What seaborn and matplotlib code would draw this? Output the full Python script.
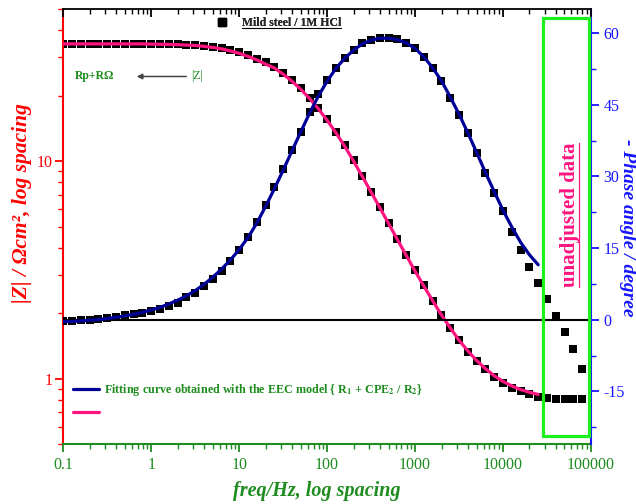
import numpy as np
import pandas as pd
import matplotlib
matplotlib.use('Agg')
import matplotlib.pyplot as plt
import seaborn as sns
from matplotlib.ticker import LogLocator, FixedLocator, FixedFormatter, NullFormatter, MultipleLocator
from matplotlib.lines import Line2D
from matplotlib.patches import Rectangle

# ---------------- data ----------------
freq = [0.1, 0.1259, 0.1585, 0.1995, 0.2512, 0.3162, 0.3981, 0.5012, 0.631, 0.7943,
        1.0, 1.259, 1.585, 1.995, 2.512, 3.162, 3.981, 5.012, 6.31, 7.943,
        10.0, 12.59, 15.85, 19.95, 25.12, 31.62, 39.81, 50.12, 63.1, 79.43,
        100.0, 125.9, 158.5, 199.5, 251.2, 316.2, 398.1, 501.2, 631.0, 794.3,
        1000.0, 1259.0, 1585.0, 1995.0, 2512.0, 3162.0, 3981.0, 5012.0, 6310.0, 7943.0,
        10000.0, 12590.0, 15850.0, 19950.0, 25120.0, 31620.0, 39810.0, 50120.0, 63100.0, 79430.0]

z_data = [34.6, 34.6, 34.6, 34.6, 34.6, 34.6, 34.6, 34.6, 34.6, 34.6,
          34.6, 34.5, 34.5, 34.4, 34.3, 34.1, 33.9, 33.5, 33.0, 32.4,
          31.7, 30.7, 29.6, 28.4, 27.0, 25.5, 23.7, 21.7, 19.6, 17.6,
          15.6, 13.6, 11.8, 10.1, 8.53, 7.2, 6.14, 5.18, 4.37, 3.69,
          3.15, 2.68, 2.28, 1.95, 1.70, 1.50, 1.33, 1.21, 1.11, 1.02,
          0.958, 0.909, 0.881, 0.853, 0.826, 0.817, 0.809, 0.809, 0.809, 0.809]

phase_data = [-0.35, -0.2, -0.15, 0.0, 0.15, 0.35, 0.6, 0.9, 1.1, 1.4,
              1.9, 2.3, 2.9, 3.6, 4.8, 5.7, 7.0, 8.6, 10.3, 12.3,
              14.6, 17.3, 20.5, 24.0, 27.8, 31.6, 35.5, 39.3, 43.5, 47.2,
              50.2, 52.7, 54.8, 56.5, 57.9, 58.6, 59.0, 59.0, 58.8, 58.0,
              56.9, 55.0, 52.7, 50.0, 46.4, 42.9, 39.0, 34.9, 30.6, 26.5,
              22.7, 18.4, 14.5, 11.1, 7.7, 4.4, 0.8, -2.5, -6.1, -10.3]

fit_freq = freq[:55]

z_fit = [34.6, 34.6, 34.6, 34.6, 34.6, 34.6, 34.6, 34.6, 34.6, 34.6,
         34.5, 34.45, 34.4, 34.3, 34.15, 34.0, 33.7, 33.3, 32.8, 32.1,
         31.3, 30.3, 29.2, 27.9, 26.8, 25.1, 23.3, 21.4, 19.4, 17.4,
         15.4, 13.5, 11.7, 10.0, 8.5, 7.2, 6.1, 5.15, 4.35, 3.68,
         3.12, 2.66, 2.28, 1.96, 1.71, 1.50, 1.34, 1.21, 1.11, 1.03,
         0.97, 0.925, 0.89, 0.865, 0.845]

phase_fit = [-0.4, -0.35, -0.25, -0.1, 0.05, 0.25, 0.5, 0.8, 1.15, 1.55,
             2.05, 2.6, 3.3, 4.1, 5.0, 6.1, 7.4, 8.9, 10.6, 12.5,
             14.7, 17.2, 20.2, 23.7, 27.4, 31.3, 35.3, 39.3, 43.2, 46.8,
             49.9, 52.6, 54.7, 56.4, 57.7, 58.5, 58.9, 58.9, 58.6, 57.9,
             56.8, 55.0, 52.7, 50.0, 46.6, 43.0, 39.1, 35.0, 30.8, 26.8,
             22.9, 19.4, 16.2, 13.6, 11.5]

x_ticks = [0.1, 1, 10, 100, 1000, 10000, 100000]
x_ticklabels = ['0.1', '1', '10', '100', '1000', '10000', '100000']
z_ticks = [1, 10]
z_ticklabels = ['1', '10']
phase_ticks = [-15, 0, 15, 30, 45, 60]
phase_ticklabels = ['-15', '0', '15', '30', '45', '60']

# ---------------- style ----------------
sns.set_theme(style='white')
plt.rcParams['font.family'] = ['Liberation Serif', 'DejaVu Serif']
plt.rcParams['mathtext.fontset'] = 'stix'

RED = '#FF0000'
GREEN = '#1E8C1E'
BLUE = '#1515FF'
NAVY = '#000099'
PINK = '#FF1480'
LIME = '#1EF01E'

fig = plt.figure(figsize=(6.36, 5.04), dpi=100)
ax = fig.add_axes([0.0995, 0.119, 0.8297, 0.863])
ax2 = ax.twinx()
ax3 = ax.twiny()

df = pd.DataFrame({'freq': freq, 'Z': z_data, 'phase': phase_data})
fit = pd.DataFrame({'freq': fit_freq, 'Z': z_fit, 'phase': phase_fit})

# |Z|
sns.scatterplot(data=df, x='freq', y='Z', ax=ax, marker='s', color='black',
                s=38, linewidth=0, zorder=2, legend=False)
sns.lineplot(data=fit, x='freq', y='Z', ax=ax, color=PINK, lw=2.3, zorder=3,
             legend=False, sort=False)
ax.set_xscale('log')
ax.set_yscale('log')
ax.set_xlim(0.1, 1e5)
ax.set_ylim(0.5, 50)

# phase
ax2.axhline(0, color='black', lw=1.5, zorder=1)
sns.scatterplot(data=df, x='freq', y='phase', ax=ax2, marker='s', color='black',
                s=38, linewidth=0, zorder=2, legend=False)
sns.lineplot(data=fit, x='freq', y='phase', ax=ax2, color=NAVY, lw=2.3, zorder=3,
             legend=False, sort=False)
ax2.set_ylim(-26, 65)

# top axis
ax3.set_xscale('log')
ax3.set_xlim(0.1, 1e5)

# ---------------- ticks ----------------
ax.xaxis.set_major_locator(FixedLocator(x_ticks))
ax.xaxis.set_major_formatter(FixedFormatter(x_ticklabels))
ax.xaxis.set_minor_locator(LogLocator(base=10, subs=np.arange(2, 10), numticks=100))
ax.xaxis.set_minor_formatter(NullFormatter())
ax.yaxis.set_major_locator(FixedLocator(z_ticks))
ax.yaxis.set_major_formatter(FixedFormatter(z_ticklabels))
ax.yaxis.set_minor_locator(LogLocator(base=10, subs=np.arange(2, 10), numticks=100))
ax.yaxis.set_minor_formatter(NullFormatter())

ax2.yaxis.set_major_locator(FixedLocator(phase_ticks))
ax2.yaxis.set_major_formatter(FixedFormatter(phase_ticklabels))
ax2.yaxis.set_minor_locator(MultipleLocator(7.5))

ax3.xaxis.set_major_locator(FixedLocator(x_ticks))
ax3.xaxis.set_major_formatter(NullFormatter())
ax3.xaxis.set_minor_locator(LogLocator(base=10, subs=np.arange(2, 10), numticks=100))
ax3.xaxis.set_minor_formatter(NullFormatter())

ax.tick_params(axis='x', which='both', colors=GREEN, direction='out', bottom=True, top=False,
               labelsize=11.5, pad=3)
ax.tick_params(axis='y', which='both', colors=RED, direction='out', left=True, right=False,
               labelsize=11.5, pad=2)
ax2.tick_params(axis='y', which='both', colors=BLUE, direction='out', right=True, left=False,
                labelright=True, labelsize=11.5, pad=3)
ax3.tick_params(axis='x', which='both', colors='black', direction='in', top=True, bottom=False,
                labeltop=False)
for a in (ax, ax2, ax3):
    a.tick_params(which='major', length=6, width=1.3)
    a.tick_params(which='minor', length=3.5, width=1.0)
    a.grid(False)

# spines
for s in ('right', 'top'):
    ax.spines[s].set_visible(False)
for s in ('left', 'bottom', 'top'):
    ax2.spines[s].set_visible(False)
for s in ('left', 'bottom', 'right'):
    ax3.spines[s].set_visible(False)
ax.spines['left'].set_color(RED)
ax.spines['left'].set_linewidth(1.5)
ax.spines['bottom'].set_color(GREEN)
ax.spines['bottom'].set_linewidth(1.5)
ax2.spines['right'].set_color(BLUE)
ax2.spines['right'].set_linewidth(1.5)
ax3.spines['top'].set_color('black')
ax3.spines['top'].set_linewidth(1.3)

# labels
ax.set_xlabel('freq/Hz, log spacing', color=GREEN, fontsize=14.5, fontweight='bold',
              fontstyle='italic')
ax.xaxis.set_label_coords(0.481, -0.085)
ax.set_ylabel('|Z| / Ωcm², log spacing', color=RED, fontsize=15.5, fontweight='bold',
              fontstyle='italic')
ax.yaxis.label.set_verticalalignment('center')
ax.yaxis.set_label_coords(-0.079, 0.555)
ax2.set_ylabel('- Phase angle / degree', color=BLUE, rotation=270, fontsize=14,
               fontweight='bold', fontstyle='italic')
ax2.yaxis.label.set_verticalalignment('center')
ax2.yaxis.label.set_horizontalalignment('center')
ax2.yaxis.set_label_coords(1.069, 0.497)
ax3.set_xlabel('')

# ---------------- annotations ----------------
leg1 = ax3.legend(handles=[Line2D([], [], marker='s', color='black', ls='', markersize=6)],
                  labels=['Mild steel / 1M HCl'], loc='upper left',
                  bbox_to_anchor=(0.289, 0.981), frameon=False, borderpad=0, borderaxespad=0,
                  handlelength=1.0, handletextpad=1.2,
                  prop=dict(family='Liberation Serif', weight='bold', size=8.5))
ax3.add_artist(leg1)

fit_handles = [Line2D([], [], color=NAVY, lw=2.3), Line2D([], [], color=PINK, lw=2.3)]
leg2 = ax2.legend(handles=fit_handles,
                  labels=['Fitting curve obtained with the EEC model { R$_\\mathbf{1}$ + CPE$_\\mathbf{2}$ / R$_\\mathbf{2}$}', ' '],
                  loc='upper left', bbox_to_anchor=(0.018, 0.142), frameon=False,
                  borderpad=0, borderaxespad=0, handlelength=2.2, handletextpad=0.35,
                  labelspacing=0.75,
                  prop=dict(family='Liberation Serif', weight='bold', size=8.7))
for t in leg2.get_texts():
    t.set_color(GREEN)

ax3.text(0.022, 0.846, 'Rp+RΩ', transform=ax3.transAxes, color=GREEN, fontsize=8.5,
         fontweight='bold', ha='left', va='center')
ax3.annotate('|Z|', xy=(0.139, 0.845), xycoords='axes fraction',
             xytext=(0.242, 0.845), textcoords='axes fraction',
             color=GREEN, fontsize=8.5, ha='left', va='center',
             arrowprops=dict(arrowstyle='-|>', color='#444444', lw=1.1,
                             mutation_scale=8, shrinkA=1, shrinkB=0))

ax3.add_patch(Rectangle((0.9085, 0.0184), 0.0875, 0.9606, transform=ax3.transAxes,
                        fill=False, edgecolor=LIME, lw=2.3, zorder=5, clip_on=False))
unadj = ax3.text(0.961, 0.526, 'unadjusted data', transform=ax3.transAxes, rotation=90,
                 color=PINK, fontsize=15, fontweight='bold', ha='center', va='center')

# underline texts
fig.canvas.draw()
renderer = fig.canvas.get_renderer()
W, H = fig.bbox.width, fig.bbox.height
bb = leg1.get_texts()[0].get_window_extent(renderer)
yl = (bb.y0 + 1.5) / H
fig.add_artist(Line2D([bb.x0 / W, bb.x1 / W], [yl, yl], transform=fig.transFigure,
                      color='black', lw=0.8))
bb = unadj.get_window_extent(renderer)
xl = (bb.x1 - 1.5) / W
fig.add_artist(Line2D([xl, xl], [bb.y0 / H, bb.y1 / H], transform=fig.transFigure,
                      color=PINK, lw=0.9))

fig.savefig('out.png', dpi=100)
